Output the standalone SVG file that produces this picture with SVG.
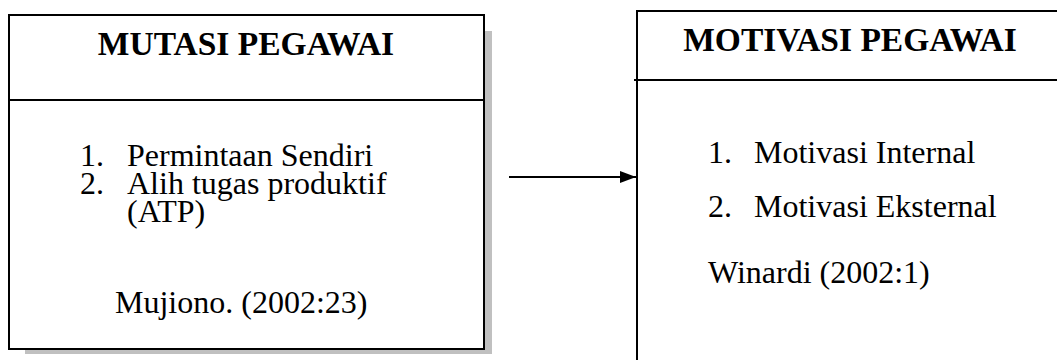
<svg xmlns="http://www.w3.org/2000/svg" width="1057" height="360" viewBox="0 0 1057 360">
<style>
.box{fill:#ffffff;stroke:#000000;stroke-width:2}
.div{stroke:#000000;stroke-width:2}
.shadow{fill:#c0c0c0}
.title{font-family:"Liberation Serif","Times New Roman",serif;font-weight:bold;font-size:33.5px;fill:#000000}
.body{font-family:"Liberation Serif","Times New Roman",serif;font-size:32px;fill:#000000}
.conn{stroke:#000000;stroke-width:2;fill:none}
</style>
<defs>
<marker id="arrow" markerWidth="8" markerHeight="6" refX="8" refY="3" orient="auto" markerUnits="strokeWidth">
<path d="M0,0 L8,3 L0,6 Z" fill="#000000"/>
</marker>
</defs>
<rect width="1057" height="360" fill="#ffffff"/>
<g id="mutasi-pegawai">
<rect class="shadow" x="485" y="31" width="7" height="323"/>
<rect class="shadow" x="25" y="349" width="467" height="5"/>
<rect class="box" x="9" y="15" width="475" height="334"/>
<line class="div" x1="9" y1="100" x2="484" y2="100"/>
<text class="title" x="246" y="55" text-anchor="middle">MUTASI PEGAWAI</text>
<text class="body" x="80" y="166">1.</text>
<text class="body" x="127" y="166">Permintaan Sendiri</text>
<text class="body" x="80" y="194">2.</text>
<text class="body" x="127" y="194">Alih tugas produktif</text>
<text class="body" x="127" y="222">(ATP)</text>
<text class="body" x="115" y="313">Mujiono. (2002:23)</text>
</g>
<g id="motivasi-pegawai">
<rect class="box" x="637" y="11" width="440" height="370"/>
<line class="div" x1="634" y1="80" x2="1057" y2="80"/>
<text class="title" x="850" y="51" text-anchor="middle">MOTIVASI PEGAWAI</text>
<text class="body" x="708" y="163">1.</text>
<text class="body" x="754" y="163">Motivasi Internal</text>
<text class="body" x="708" y="217">2.</text>
<text class="body" x="754" y="217">Motivasi Eksternal</text>
<text class="body" x="708" y="283">Winardi (2002:1)</text>
</g>
<g id="connectors">
<line class="conn" x1="509" y1="177" x2="636" y2="177" marker-end="url(#arrow)"/>
</g>
</svg>
